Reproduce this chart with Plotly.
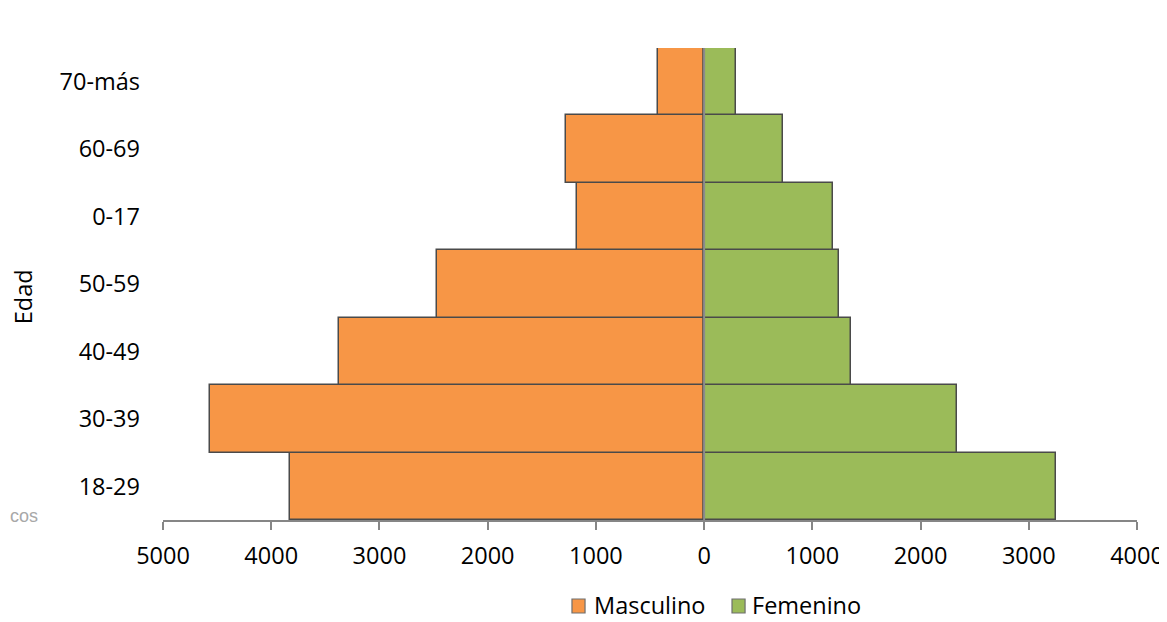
import plotly.graph_objects as go

categories = ["18-29", "30-39", "40-49", "50-59", "0-17", "60-69", "70-más"]
masculino = [3830, 4570, 3370, 2465, 1170, 1275, 425]
femenino = [3250, 2340, 1355, 1250, 1195, 725, 295]
x_ticks = [-5000, -4000, -3000, -2000, -1000, 0, 1000, 2000, 3000, 4000]
x_tick_labels = ["5000", "4000", "3000", "2000", "1000", "0", "1000", "2000", "3000", "4000"]
series_names = ["Masculino", "Femenino"]
series_colors = ["#F79646", "#9BBB59"]

FONT = "Open Sans"
FS = 23.5
fig = go.Figure()
fig.add_trace(go.Bar(
    y=categories, x=[-v for v in masculino], orientation="h", name=series_names[0],
    marker=dict(color=series_colors[0], line=dict(color="#4a4a4a", width=1.5)),
))
fig.add_trace(go.Bar(
    y=categories, x=femenino, orientation="h", name=series_names[1],
    marker=dict(color=series_colors[1], line=dict(color="#4a4a4a", width=1.5)),
))

# page has an 8px body margin, so the figure is smaller and shifted by 8px
fig.update_layout(
    width=1159, height=614,
    margin=dict(l=155, r=30, t=40, b=102, autoexpand=False),
    barmode="relative", bargap=0,
    plot_bgcolor="white", paper_bgcolor="white",
    font=dict(family=FONT, size=FS, color="#000000"),
    showlegend=False,
)
fig.update_xaxes(
    range=[-5000, 4000], tickvals=x_ticks, ticktext=x_tick_labels,
    showgrid=False, zeroline=False, showline=True, linecolor="#868686", linewidth=1.5,
    ticks="outside", ticklen=8, tickcolor="#868686", tickwidth=1.5,
    ticklabelstandoff=6,
    tickfont=dict(family=FONT, size=FS), automargin=False,
)
fig.update_yaxes(
    categoryorder="array", categoryarray=categories, range=[-0.5, 6.5],
    showgrid=False, zeroline=False, showline=False, ticks="",
    ticklabelstandoff=22, tickfont=dict(family=FONT, size=FS), automargin=False,
)
fig.add_shape(type="line", xref="x", yref="paper", x0=0, x1=0, y0=0, y1=1,
              line=dict(color="#8c8c8c", width=2), layer="above")

# legend drawn below the plot (Excel style)
legend_square_x = [0.4199, 0.5842]
legend_text_x = [0.4405, 0.6027]
for name, color, sx, tx in zip(series_names, series_colors, legend_square_x, legend_text_x):
    fig.add_shape(type="rect", xref="paper", yref="paper", x0=sx, x1=sx + 0.0134,
                  y0=-0.1970, y1=-0.1674, fillcolor=color,
                  line=dict(color="#6e6e6e", width=1.2))
    fig.add_annotation(text=name, xref="paper", yref="paper", x=tx, y=-0.1801,
                       showarrow=False, xanchor="left", yanchor="middle",
                       font=dict(family=FONT, size=FS))

fig.add_annotation(text="Edad", xref="paper", yref="paper", x=-0.1437, y=0.472,
                   textangle=-90, showarrow=False, font=dict(family=FONT, size=FS),
                   xanchor="center", yanchor="middle")
fig.add_annotation(text="cos", xref="paper", yref="paper", x=-0.1591, y=0.0085,
                   showarrow=False, xanchor="left", yanchor="middle",
                   font=dict(family="Liberation Sans", size=18, color="#a8a8a8"))

fig.write_html("out.html")
